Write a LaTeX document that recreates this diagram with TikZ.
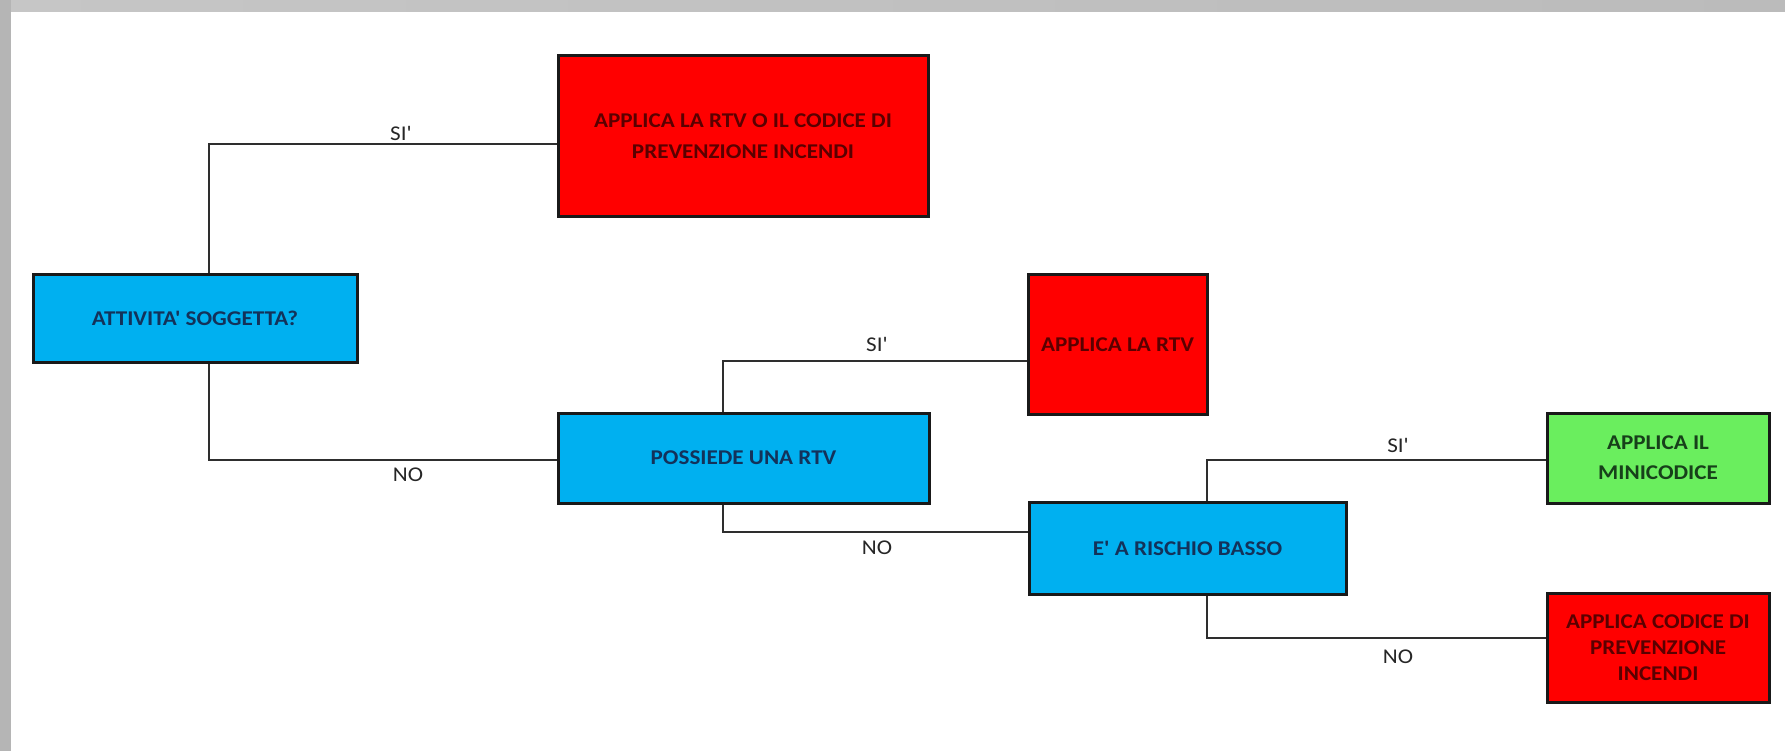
\documentclass[tikz,border=0pt]{standalone}
\usepackage{fontspec}
\setmainfont{Carlito}[Ligatures=TeXOff, FakeStretch=1.1]
\definecolor{boxblue}{HTML}{00B0F0}
\definecolor{boxred}{HTML}{FF0000}
\definecolor{boxgreen}{HTML}{6AEE5E}
\definecolor{txtblue}{HTML}{13325A}
\definecolor{txtred}{HTML}{5A0000}
\definecolor{txtgreen}{HTML}{17401A}
\definecolor{frameA}{HTML}{C6C6C6}
\definecolor{frameB}{HTML}{BBBBBB}
\definecolor{frameL}{HTML}{B5B5B5}
\definecolor{wire}{HTML}{2E2E2E}
\tikzset{
  box/.style={draw=black!90, line width=3pt, rectangle, align=center,
    inner sep=0pt, font=\fontsize{21}{30}\selectfont\bfseries},
  question/.style={box, fill=boxblue, text=txtblue},
  stopbox/.style={box, fill=boxred, text=txtred},
  gobox/.style={box, fill=boxgreen, text=txtgreen},
  wirepath/.style={draw=wire, line width=2pt},
  answer/.style={font=\fontsize{21}{24}\selectfont, text=black!85, inner sep=0pt}
}
\begin{document}
\begin{tikzpicture}[x=1pt,y=-1pt]
\useasboundingbox (0,0) rectangle (1785,751);
\fill[white] (0,0) rectangle (1785,751);
% grey window frame along the top and left edges
\shade[left color=frameA, right color=frameB] (0,0) rectangle (1785,12);
\fill[frameL] (0,0) rectangle (11,751);

% decision and outcome boxes
\node[question, minimum width=324pt, minimum height=87pt] (sogg) at (195,318.5) {ATTIVITA' SOGGETTA?};
\node[stopbox, minimum width=370pt, minimum height=161pt, font=\fontsize{21}{31}\selectfont\bfseries] (rtvcod) at (743,136.5) {APPLICA LA RTV O IL CODICE DI\\PREVENZIONE INCENDI};
\node[question, minimum width=371pt, minimum height=90pt] (poss) at (743.5,458) {POSSIEDE UNA RTV};
\node[stopbox, minimum width=179pt, minimum height=139pt] (rtv) at (1117.5,344.5) {APPLICA LA RTV};
\node[question, minimum width=317pt, minimum height=92pt] (basso) at (1187.5,548) {E' A RISCHIO BASSO};
\node[gobox, minimum width=222pt, minimum height=90pt] (mini) at (1658,458) {APPLICA IL\\MINICODICE};
\node[stopbox, minimum width=222pt, minimum height=109pt, font=\fontsize{21}{26}\selectfont\bfseries] (codice) at (1658,647.5) {APPLICA CODICE DI\\PREVENZIONE\\INCENDI};

% elbow points of the connectors
\coordinate (k1) at (209,144);
\coordinate (k2) at (209,460);
\coordinate (k3) at (723,361);
\coordinate (k4) at (723,532);
\coordinate (k5) at (1207,460);
\coordinate (k6) at (1207,638);

% connectors
\draw[wirepath] (sogg.north -| k1) -- (k1) -- (k1 -| rtvcod.west);
\draw[wirepath] (sogg.south -| k2) -- (k2) -- (k2 -| poss.west);
\draw[wirepath] (poss.north -| k3) -- (k3) -- (k3 -| rtv.west);
\draw[wirepath] (poss.south -| k4) -- (k4) -- (k4 -| basso.west);
\draw[wirepath] (basso.north -| k5) -- (k5) -- (k5 -| mini.west);
\draw[wirepath] (basso.south -| k6) -- (k6) -- (k6 -| codice.west);

% branch labels
\node[answer] (si1) at (401,133) {SI'};
\node[answer] (no1) at (408,475) {NO};
\node[answer] (si2) at (877,344) {SI'};
\node[answer] (no2) at (877,548) {NO};
\node[answer] (si3) at (1398,445) {SI'};
\node[answer] (no3) at (1398,657) {NO};
\end{tikzpicture}
\end{document}
